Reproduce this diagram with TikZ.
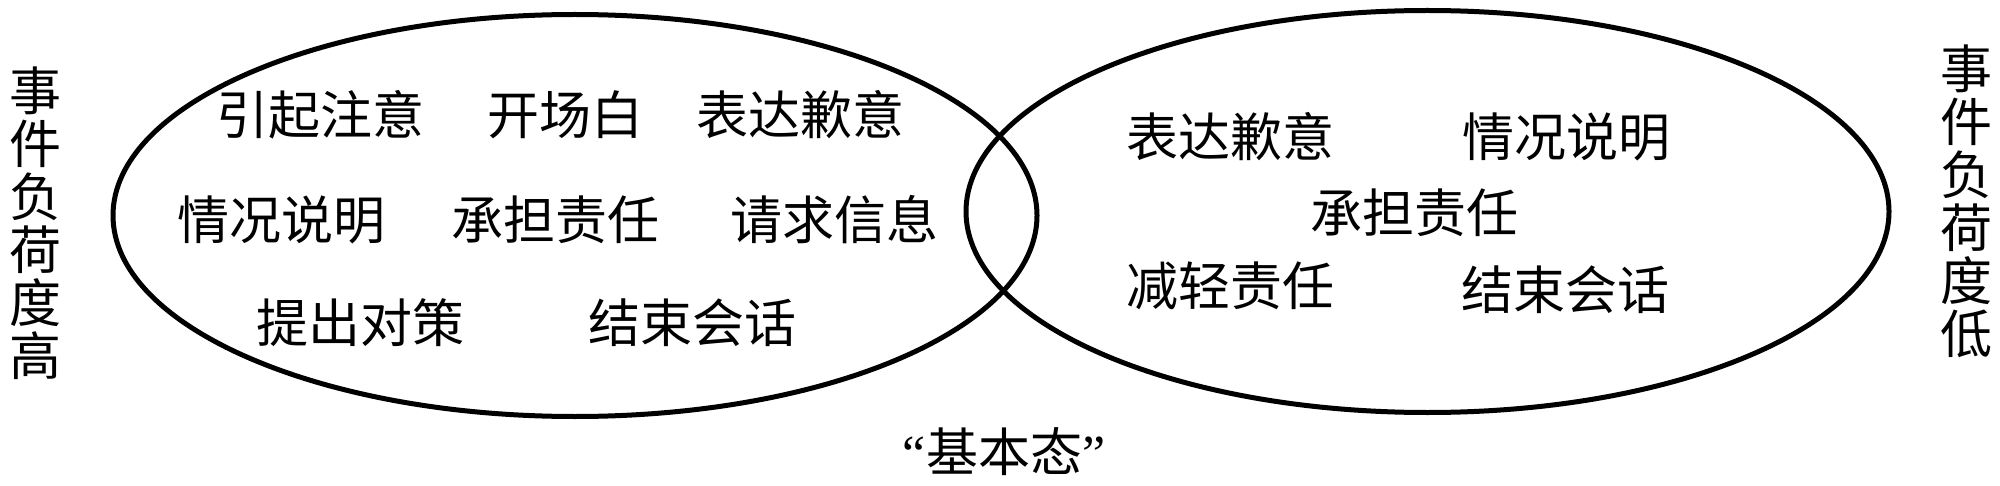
\documentclass[tikz,border=0pt]{standalone}
\usepackage{fontspec}
\newfontfamily\cjk{Noto Sans CJK SC}
\newfontfamily\qf{Liberation Serif}
\begin{document}
\begin{tikzpicture}[x=0.5pt,y=-0.5pt,
  lbl/.style={font=\cjk\fontsize{26pt}{26.5pt}\selectfont, inner sep=0pt},
  vlbl/.style={lbl, align=center},
  ring/.style={line width=2.5pt, draw=black}]
\useasboundingbox (0,0) rectangle (2000,486);
\fill[white] (0,0) rectangle (2000,486);
% ellipses
\draw[ring] (575,215.5) ellipse [x radius=231pt, y radius=100.5pt];
\draw[ring] (1427.5,211.5) ellipse [x radius=230.75pt, y radius=100.5pt];
% side labels
\node[vlbl] (hi) at (36,223) {事\\件\\负\\荷\\度\\高};
\node[vlbl] (lo) at (1966,201) {事\\件\\负\\荷\\度\\低};
% left ellipse
\node[lbl] (l11) at (320,115) {引起注意};
\node[lbl] (l12) at (565,115) {开场白};
\node[lbl] (l13) at (800,115) {表达歉意};
\node[lbl] (l21) at (281,220) {情况说明};
\node[lbl] (l22) at (555,220) {承担责任};
\node[lbl] (l23) at (834,220) {请求信息};
\node[lbl] (l31) at (360,323) {提出对策};
\node[lbl] (l32) at (692,323) {结束会话};
% right ellipse
\node[lbl] (r11) at (1230,137) {表达歉意};
\node[lbl] (r12) at (1566,137) {情况说明};
\node[lbl] (r21) at (1414,213) {承担责任};
\node[lbl] (r31) at (1230,286) {减轻责任};
\node[lbl] (r32) at (1565,290) {结束会话};
% bottom
\node[lbl] (basic) at (1004,452) {{\qf “}基本态{\qf ”}};
\end{tikzpicture}
\end{document}
